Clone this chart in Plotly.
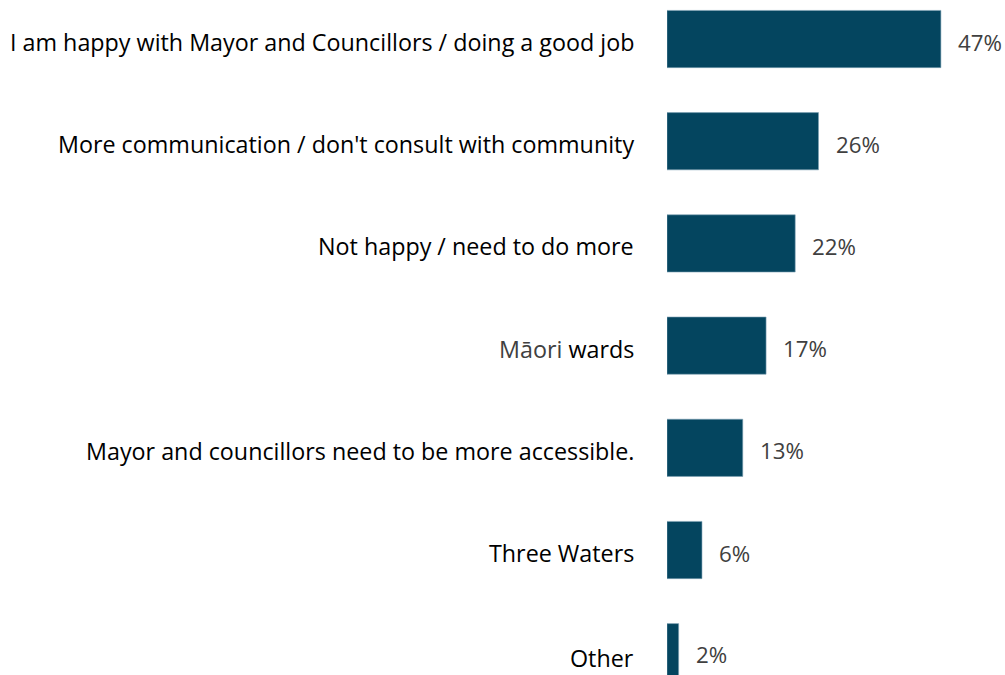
import plotly.graph_objects as go

categories = [
    "I am happy with Mayor and Councillors / doing a good job",
    "More communication / don't consult with community",
    "Not happy / need to do more",
    "<span style='color:#404040;font-family:Open Sans'>Māori</span> wards",
    "Mayor and councillors need to be more accessible.",
    "Three Waters",
    "Other",
]
values = [47, 26, 22, 17, 13, 6, 2]
value_labels = ["47%", "26%", "22%", "17%", "13%", "6%", "2%"]

_BAR = "#04455F"
_LBL_FONT = dict(family="Open Sans, Carlito, Calibri, sans-serif", size=23.3, color="#000000")
_VAL_FONT = dict(family="Open Sans, Segoe UI, sans-serif", size=22.3, color="#404040")

pos = list(range(len(categories)))

fig = go.Figure()
fig.add_trace(go.Bar(
    x=values, y=pos, orientation="h", width=0.56,
    marker=dict(color=_BAR, line=dict(color="#7FA3B5", width=0.6)),
    hoverinfo="skip", showlegend=False,
))

annotations = []
for i, (cat, v, lab) in enumerate(zip(categories, values, value_labels)):
    last = i == len(categories) - 1
    annotations.append(dict(x=0, y=i, xref="x", yref="y", text=cat, showarrow=False,
                            xanchor="right", yanchor="middle", xshift=-31,
                            yshift=-6 if last else -3, font=_LBL_FONT))
    annotations.append(dict(x=v, y=i, xref="x", yref="y", text=lab, showarrow=False,
                            xanchor="left", yanchor="middle", xshift=15,
                            yshift=-2 if last else -3, font=_VAL_FONT))

fig.update_layout(
    width=1005, height=675,
    paper_bgcolor="#FFFFFF", plot_bgcolor="#FFFFFF",
    margin=dict(l=667, r=0, t=0, b=0),
    xaxis=dict(range=[0, 58], visible=False, fixedrange=True),
    yaxis=dict(range=[6.223, -0.382], visible=False, fixedrange=True),
    annotations=annotations,
)

fig.write_html("out.html", config={"displayModeBar": False},
               post_script="document.body.style.margin='0';")
